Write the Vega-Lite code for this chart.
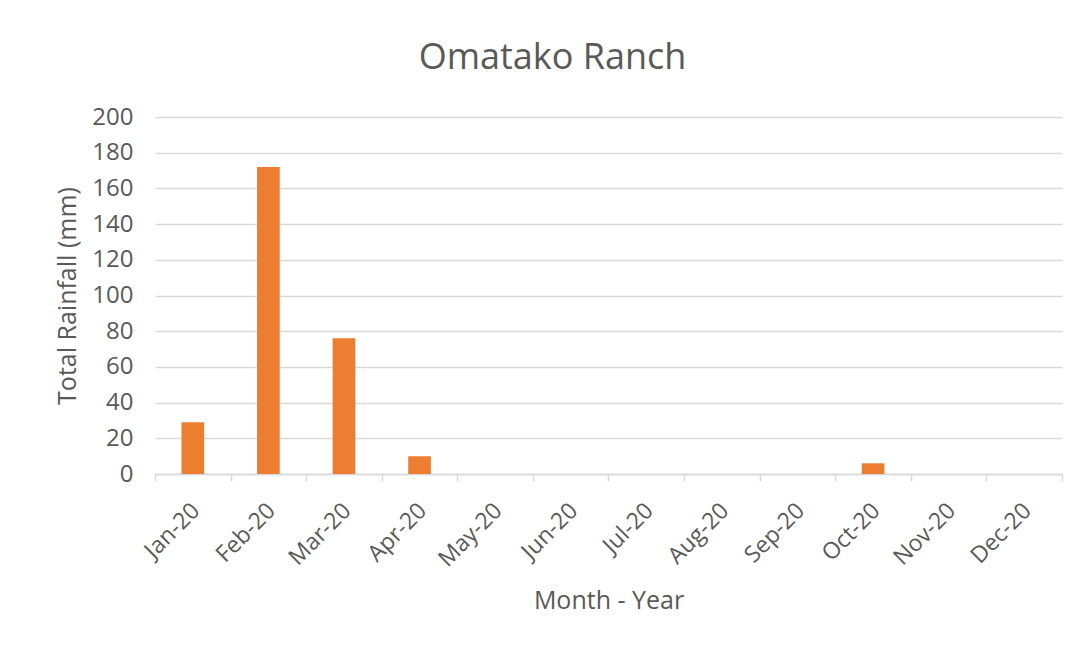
{
  "$schema": "https://vega.github.io/schema/vega-lite/v6.json",
  "autosize": {"type": "none"},
  "width": 907,
  "height": 357,
  "padding": {"left": 155, "top": 117, "right": 25, "bottom": 181},
  "background": "white",
  "config": {
    "font": "Open Sans",
    "view": {"stroke": null},
    "axis": {"labelColor": "#595959", "titleColor": "#595959", "labelFont": "Open Sans", "titleFont": "Open Sans", "titleFontWeight": "normal"}
  },
  "title": {
    "text": "Omatako Ranch",
    "fontSize": 36,
    "font": "Open Sans",
    "fontWeight": "normal",
    "color": "#595959",
    "anchor": "middle",
    "dx": -56,
    "offset": 28
  },
  "data": {
    "values": [
      {"month": "Jan-20", "rain": 29},
      {"month": "Feb-20", "rain": 172},
      {"month": "Mar-20", "rain": 76},
      {"month": "Apr-20", "rain": 10},
      {"month": "May-20", "rain": 0},
      {"month": "Jun-20", "rain": 0},
      {"month": "Jul-20", "rain": 0},
      {"month": "Aug-20", "rain": 0},
      {"month": "Sep-20", "rain": 0},
      {"month": "Oct-20", "rain": 6},
      {"month": "Nov-20", "rain": 0},
      {"month": "Dec-20", "rain": 0}
    ]
  },
  "mark": {"type": "bar", "color": "#ED7D31", "width": {"band": 0.3}},
  "encoding": {
    "x": {
      "field": "month",
      "type": "nominal",
      "sort": null,
      "scale": {"paddingInner": 0, "paddingOuter": 0},
      "axis": {
        "title": "Month - Year",
        "titleFontSize": 25,
        "titlePadding": 18,
        "labelAngle": -45,
        "labelFontSize": 23,
        "labelPadding": 18,
        "labelOffset": -5,
        "tickBand": "extent",
        "tickSize": 7,
        "tickColor": "#D9D9D9",
        "domainColor": "#D9D9D9",
        "domainWidth": 1.5,
        "tickWidth": 1.5,
        "grid": false
      }
    },
    "y": {
      "field": "rain",
      "type": "quantitative",
      "scale": {"domain": [0, 200], "nice": false},
      "axis": {
        "title": "Total Rainfall (mm)",
        "titleFontSize": 25,
        "titlePadding": 11,
        "values": [0, 20, 40, 60, 80, 100, 120, 140, 160, 180, 200],
        "labelFontSize": 24,
        "labelPadding": 22,
        "ticks": false,
        "domain": false,
        "grid": true,
        "gridColor": "#D9D9D9",
        "gridWidth": 1.5
      }
    }
  }
}
